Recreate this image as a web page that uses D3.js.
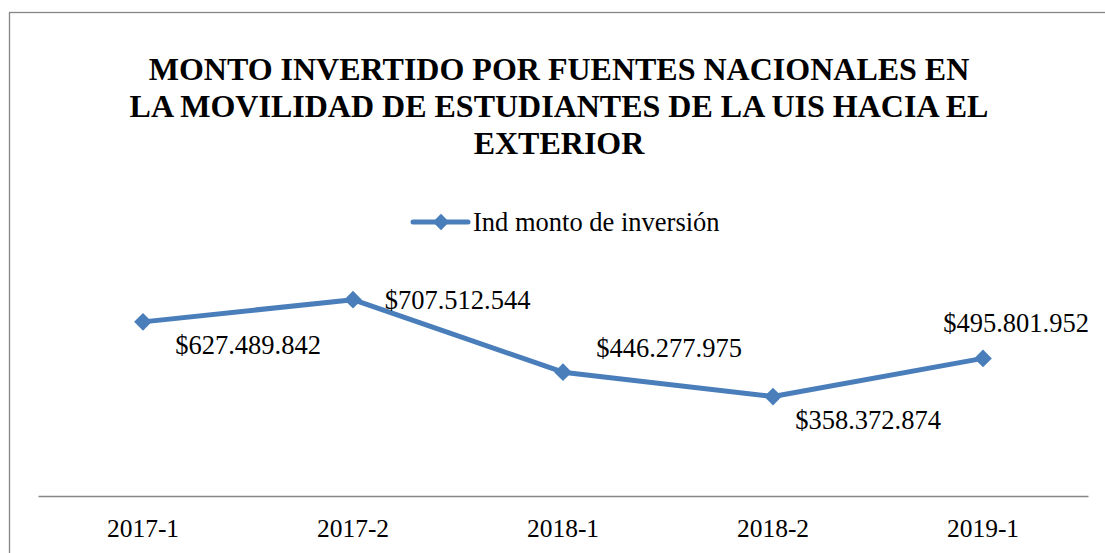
<!DOCTYPE html>
<html>
<head>
<meta charset="utf-8">
<script src="https://cdn.jsdelivr.net/npm/d3@7"></script>
<style>
  body { margin: 0; background: #fff; }
  text { font-family: "Liberation Serif", "Times New Roman", serif; fill: #000; }
</style>
</head>
<body>
<div id="chart"></div>
<script>
    var periods = ["2017-1", "2017-2", "2018-1", "2018-2", "2019-1"];
    var montos = [627489842, 707512544, 446277975, 358372874, 495801952];
    var valueLabels = ["$627.489.842", "$707.512.544", "$446.277.975", "$358.372.874", "$495.801.952"];
    var titleLines = ["MONTO INVERTIDO POR FUENTES NACIONALES EN",
                      "LA MOVILIDAD DE ESTUDIANTES DE LA UIS HACIA EL",
                      "EXTERIOR"];
    var seriesName = "Ind monto de inversión";

    // label offsets (dx, dy to baseline) from each point, placed by hand like the original
    var labelOffsets = [[105, 32], [104.5, 9], [106, -15.5], [95, 32.5], [33, -26.5]];

    var width = 1105, height = 553;
    var blue = "#4a7ebb";

    var svg = d3.select("#chart").append("svg")
        .attr("width", width)
        .attr("height", height);

    // chart frame
    svg.append("rect")
        .attr("x", 9.5).attr("y", 12.5)
        .attr("width", width + 20).attr("height", height + 20)
        .attr("fill", "none")
        .attr("stroke", "#868686")
        .attr("stroke-width", 1.3);

    // title
    svg.append("g").selectAll("text")
        .data(titleLines)
        .enter().append("text")
        .attr("x", 559)
        .attr("y", function (d, i) { return 79.5 + i * 37; })
        .attr("text-anchor", "middle")
        .style("font-size", "32px")
        .style("font-weight", "bold")
        .text(function (d) { return d; });

    var x = d3.scaleBand().domain(periods).range([38, 1088]);
    var y = d3.scaleLinear().domain([0, 800000000]).range([496, 274]);

    // x axis: plain line plus category labels
    var xAxis = svg.append("g")
        .attr("transform", "translate(0,496)")
        .call(d3.axisBottom(x).tickSize(0));
    xAxis.select(".domain").attr("stroke", "#868686").attr("stroke-width", 1.5);
    xAxis.selectAll("text")
        .attr("y", 40.5)
        .attr("dy", null)
        .style("font-family", "'Liberation Serif', 'Times New Roman', serif")
        .style("font-size", "25.5px")
        .attr("fill", "#000");

    var cx = function (d, i) { return x(periods[i]) + x.bandwidth() / 2; };

    var line = d3.line()
        .x(function (d, i) { return cx(d, i); })
        .y(function (d) { return y(d); });

    svg.append("path")
        .datum(montos)
        .attr("d", line)
        .attr("fill", "none")
        .attr("stroke", blue)
        .attr("stroke-width", 5)
        .attr("stroke-linejoin", "round");

    var diamond = d3.symbol().type(d3.symbolDiamond2).size(200);

    svg.append("g").selectAll("path")
        .data(montos)
        .enter().append("path")
        .attr("d", diamond)
        .attr("fill", blue)
        .attr("transform", function (d, i) {
            return "translate(" + cx(d, i) + "," + y(d) + ")";
        });

    svg.append("g").selectAll("text")
        .data(montos)
        .enter().append("text")
        .attr("x", function (d, i) { return cx(d, i) + labelOffsets[i][0]; })
        .attr("y", function (d, i) { return y(d) + labelOffsets[i][1]; })
        .attr("text-anchor", "middle")
        .style("font-size", "26.5px")
        .text(function (d, i) { return valueLabels[i]; });

    // legend
    var legend = svg.append("g").attr("transform", "translate(413,222)");
    legend.append("line")
        .attr("x1", 0).attr("x2", 55)
        .attr("stroke", blue).attr("stroke-width", 5)
        .attr("stroke-linecap", "round");
    legend.append("path")
        .attr("d", d3.symbol().type(d3.symbolDiamond2).size(170))
        .attr("fill", blue)
        .attr("transform", "translate(28,0)");
    legend.append("text")
        .attr("x", 60)
        .attr("y", 9)
        .style("font-size", "26.5px")
        .text(seriesName);
</script>
</body>
</html>
